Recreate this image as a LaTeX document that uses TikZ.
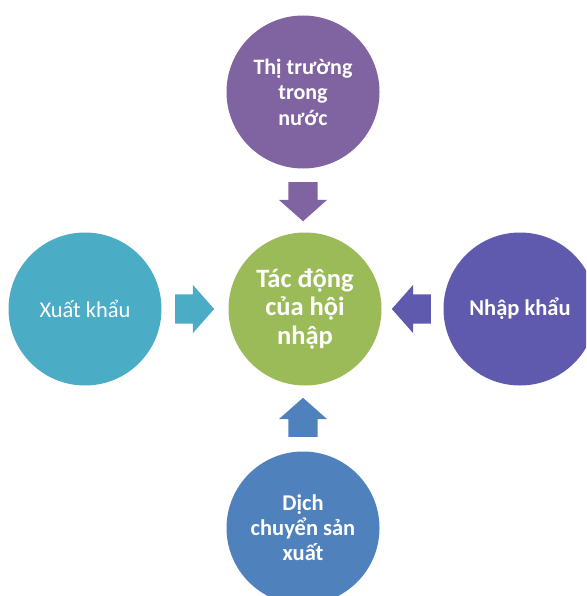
\documentclass[tikz,border=0pt]{standalone}
\usepackage{fontspec}
\setmainfont{Carlito}
\usetikzlibrary{shapes.arrows}

\definecolor{purpleTop}{HTML}{8064A2}
\definecolor{tealLeft}{HTML}{4BACC6}
\definecolor{greenMid}{HTML}{9BBB59}
\definecolor{indigoRight}{HTML}{5F5AAD}
\definecolor{blueBottom}{HTML}{4F81BD}

\tikzset{
  bubble/.style={circle, minimum size=153pt, inner sep=0pt,
    text=white, align=center},
  blockarrow/.style={single arrow, draw=none, inner xsep=0pt, inner ysep=14.5pt,
    minimum height=39pt, anchor=tail,
    single arrow head extend=9.5pt, single arrow tip angle=97}
}

\begin{document}
\begin{tikzpicture}[x=1pt, y=-1pt]
    \useasboundingbox (0,0) rectangle (586,596);
    \clip (0,0) rectangle (586,596);

    % Center
    \node[bubble, fill=greenMid,
    	font=\bfseries\fontsize{26.5}{28.5}\selectfont] (Impact) at (305,309)
    	{Tác động\\của hội\\nhập};

    % Outer circles
    \node[bubble, fill=purpleTop,
    	font=\bfseries\fontsize{22}{25.5}\selectfont] (Domestic) at (303,92)
    	{Thị trường\\trong\\nước};
    \node[bubble, fill=tealLeft,
    	font=\fontsize{22.5}{25}\selectfont] (Export) at (85,309) {Xuất khẩu};
    \node[bubble, fill=indigoRight,
    	font=\bfseries\fontsize{22.5}{25}\selectfont] (Import) at (520,309) {Nhập khẩu};
    \node[bubble, fill=blueBottom,
    	font=\bfseries\fontsize{22.5}{25}\selectfont] (Shift) at (303,528)
    	{Dịch\\chuyển sản\\xuất};

    % Arrows
    \node[blockarrow, fill=purpleTop, rotate=-90] (Arrow-top) at (303,182) {};
    \node[blockarrow, fill=tealLeft] (Arrow-left) at (175,309) {};
    \node[blockarrow, fill=indigoRight, rotate=180] (Arrow-right) at (431,309) {};
    \node[blockarrow, fill=blueBottom, rotate=90] (Arrow-bottom) at (303,437) {};
\end{tikzpicture}
\end{document}
